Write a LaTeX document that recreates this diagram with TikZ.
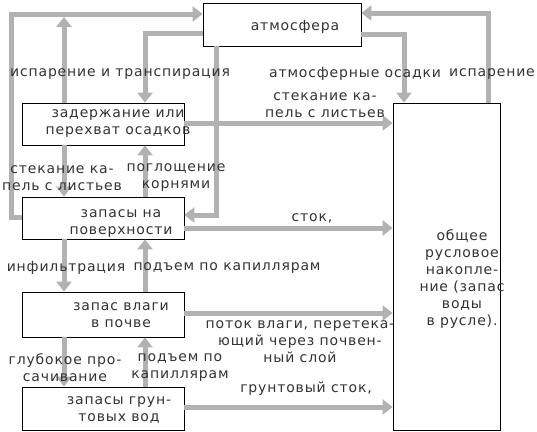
\documentclass[tikz,border=0pt]{standalone}
\usepackage{fontspec}
\setmainfont[LetterSpace=6]{DejaVu Sans}
\usetikzlibrary{arrows.meta}

\begin{document}
\begin{tikzpicture}[
    x=1pt, y=-1pt,
    font=\fontsize{14}{17}\selectfont,
    text=black!80,
    >={Triangle[length=10pt,width=15pt]},
    box/.style={draw=black, line width=0.8pt, fill=white, inner sep=0pt},
    flow/.style={->, draw=black!30, line width=5pt},
    lbl/.style={align=center, inner sep=0pt}
  ]
  \useasboundingbox (0,0) rectangle (537,431);

  % Bloques
  \node[box, minimum width=158pt, minimum height=43pt] (atm) at (282,24.5) {};
  \node[box, minimum width=162pt, minimum height=42pt] (ret) at (103,124) {};
  \node[box, minimum width=162pt, minimum height=42pt] (surf) at (103,218) {};
  \node[box, minimum width=162pt, minimum height=45pt] (soil) at (103,314.5) {};
  \node[box, minimum width=162pt, minimum height=43pt] (gw) at (103,408.5) {};
  \node[box, minimum width=107pt, minimum height=327pt] (chan) at (446.5,266.5) {};

  % Columnas de las flechas verticales
  \coordinate (cl) at (64,0);
  \coordinate (cr) at (145,0);
  \coordinate (ca) at (216,0);
  \coordinate (cd) at (404,0);
  \coordinate (ce) at (488,0);
  \coordinate (evap) at (64,17);

  % Flechas hacia y desde la atmosfera
  \draw[flow] ([yshift=1pt]surf.west) -- ++(-10,0) |- ([yshift=10.5pt]atm.west);
  \draw[flow] (ret.north -| cl) -- (evap);
  \draw[flow] ([yshift=-8.5pt]atm.west) -| (ret.north -| cr);
  \draw[flow] (atm.south -| ca) |- ([yshift=3pt]surf.east);
  \draw[flow] ([yshift=-9.5pt]atm.east) -| (chan.north -| cd);
  \draw[flow] (chan.north -| ce) |- ([yshift=11.5pt]atm.east);

  % Flechas entre bloques
  \foreach \a/\b in {ret/surf, surf/soil, soil/gw} {
    \draw[flow] (\a.south -| cl) -- (\b.north -| cl);
    \draw[flow] (\b.north -| cr) -- (\a.south -| cr);
  }

  % Flechas hacia el cauce
  \draw[flow] ([yshift=1pt]ret.east) -- ([yshift=1pt]ret.east -| chan.west);
  \draw[flow] ([yshift=-10pt]surf.east) -- ([yshift=-10pt]surf.east -| chan.west);
  \draw[flow] ([yshift=1.5pt]soil.east) -- ([yshift=1.5pt]soil.east -| chan.west);
  \draw[flow] ([yshift=1.5pt]gw.east) -- ([yshift=1.5pt]gw.east -| chan.west);

  % Textos de los bloques
  \node[lbl] (atmtxt) at (295,27) {атмосфера};
  \node[lbl] (rettxt) at (118,123.5) {задержание или\\перехват осадков};
  \node[lbl] (surftxt) at (121,223.5) {запасы на\\поверхности};
  \node[lbl] (soiltxt) at (121,315) {запас влаги\\в почве};
  \node[lbl] (gwtxt) at (119,410) {запасы грун-\\товых вод};
  \node[lbl] (chantxt) at (462,279) {общее\\русловое\\накопле-\\ние (запас\\воды\\в русле).};

  % Etiquetas de los flujos
  \node[lbl] (levtr) at (120,74) {испарение и транспирация};
  \node[lbl] (lprec) at (355,74) {атмосферные осадки};
  \node[lbl] (levap) at (492,74) {испарение};
  \node[lbl] (ldripa) at (325,105) {стекание ка-\\пель с листьев};
  \node[lbl] (ldripb) at (62,178) {стекание ка-\\пель с листьев};
  \node[lbl] (lroot) at (176,178) {поглощение\\корнями};
  \node[lbl] (lrun) at (312,218) {сток,};
  \node[lbl] (linf) at (66,268) {инфильтрация};
  \node[lbl] (lcapa) at (227,268) {подъем по капиллярам};
  \node[lbl] (lflow) at (300,342) {поток влаги, перетека-\\ющий через почвен-\\ный слой};
  \node[lbl] (lperc) at (65,368) {глубокое про-\\сачивание};
  \node[lbl] (lcapb) at (180,368) {подъем по\\капиллярам};
  \node[lbl] (lgwr) at (306,389) {грунтовый сток,};
\end{tikzpicture}
\end{document}
